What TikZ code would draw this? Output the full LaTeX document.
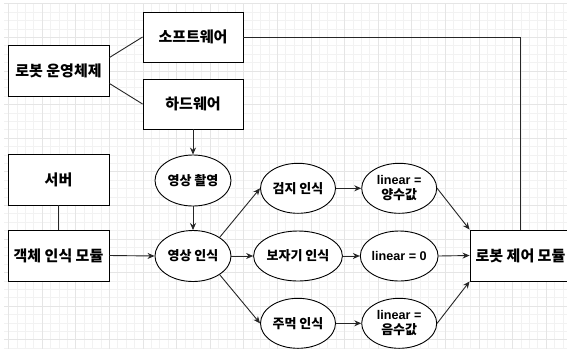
\documentclass[tikz,border=0pt]{standalone}
\usepackage{fontspec}
\setmainfont{Liberation Sans}
\newfontfamily\kr{Noto Sans CJK KR}
\usetikzlibrary{shapes.geometric,arrows.meta,calc}
\begin{document}
\begin{tikzpicture}[x=1pt,y=-1pt,
  gridminor/.style={draw=black!5,line width=0.5pt},
  gridmajor/.style={draw=black!10,line width=0.6pt},
  box/.style={draw=black,fill=white,line width=0.9pt,rectangle,minimum width=101pt,minimum height=51pt,inner sep=0pt,font=\kr\bfseries\fontsize{15}{17}\selectfont},
  oval/.style={draw=black,fill=white,line width=0.9pt,ellipse,minimum width=76pt,minimum height=51pt,inner sep=0pt,align=center,font=\kr\bfseries\fontsize{13}{15}\selectfont},
  conn/.style={draw=black!85,line width=0.9pt},
  arr/.style={conn,-{Stealth[length=7pt,width=6pt]}}]
\useasboundingbox (0,0) rectangle (567,349);
\clip (0,0) rectangle (567,349);
\fill[white] (0,0) rectangle (567,349);
% grid
\foreach \i in {0,...,66} \draw[gridminor] ({8.4+8.4*\i},3.6) -- ++(0,345.4);
\foreach \j in {0,...,41} \draw[gridminor] (4,{3.6+8.4*\j}) -- ++(563,0);
\foreach \i in {0,...,16} \draw[gridmajor] ({8.4+33.6*\i},3.6) -- ++(0,345.4);
\foreach \j in {0,...,10} \draw[gridmajor] (4,{3.6+33.6*\j}) -- ++(563,0);
% nodes
\node[box] (os) at (58.5,70.5) {로봇 운영체제};
\node[box,minimum width=100pt,minimum height=50pt] (sw) at (193,37) {소프트웨어};
\node[box,minimum width=100pt,minimum height=50pt] (hw) at (193,104) {하드웨어};
\node[box] (srv) at (58.5,179.5) {서버};
\node[box] (obj) at (58.5,255.5) {객체 인식 모듈};
\node[oval] (shoot) at (193,180.5) {영상 촬영};
\node[oval] (recog) at (193,256) {영상 인식};
\node[oval,minimum width=75pt,minimum height=50pt] (gj) at (298,188.3) {검지 인식};
\node[oval,minimum width=75pt,minimum height=50pt] (bj) at (298,256) {보자기 인식};
\node[oval,minimum width=75pt,minimum height=50pt] (jm) at (298,323.3) {주먹 인식};
\node[oval,minimum width=75pt,minimum height=50pt] (lp) at (399.2,188.3) {{\fontspec{Liberation Sans}\bfseries\fontsize{12.6}{15}\selectfont linear =}\\양수값};
\node[oval,minimum width=75pt,minimum height=50pt] (lz) at (399.2,256) {{\fontspec{Liberation Sans}\bfseries\fontsize{12.6}{15}\selectfont linear = 0}};
\node[oval,minimum width=75pt,minimum height=50pt] (lm) at (399.2,323.3) {{\fontspec{Liberation Sans}\bfseries\fontsize{12.6}{15}\selectfont linear =}\\음수값};
\node[box] (robot) at (520.5,255.5) {로봇 제어 모듈};
% connectors
\draw[conn] ($(os.north east)!0.25!(os.south east)$) -- (sw.west);
\draw[conn] ($(os.north east)!0.75!(os.south east)$) -- (hw.west);
\draw[conn] (sw.east) -| (robot.north);
\draw[arr] (hw.south) -- (shoot.north);
\draw[arr] (shoot.south) -- (recog.north);
\draw[conn] (srv.south) -- (obj.north);
\draw[arr] (obj.east) -- (recog.west);
\draw[arr] (recog.35) -- (gj.west);
\draw[arr] (recog.east) -- (bj.west);
\draw[arr] (recog.-35) -- (jm.west);
\draw[arr] (gj.east) -- (lp.west);
\draw[arr] (bj.east) -- (lz.west);
\draw[arr] (jm.east) -- (lm.west);
\draw[arr] (lp.east) -- (robot.north west);
\draw[arr] (lz.east) -- (robot.west);
\draw[arr] (lm.east) -- (robot.south west);
\end{tikzpicture}
\end{document}
